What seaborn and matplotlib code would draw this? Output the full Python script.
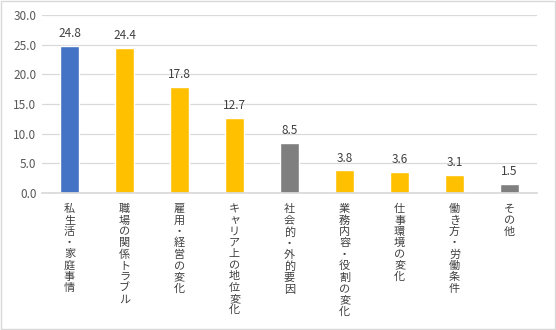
import matplotlib
matplotlib.use("Agg")
import matplotlib.pyplot as plt
import seaborn as sns
import pandas as pd

categories = ["私生活・家庭事情", "職場の関係トラブル", "雇用・経営の変化", "キャリア上の地位変化",
              "社会的・外的要因", "業務内容・役割の変化", "仕事環境の変化", "働き方・労働条件", "その他"]
values = [24.8, 24.4, 17.8, 12.7, 8.5, 3.8, 3.6, 3.1, 1.5]
colors = ["#4472C4", "#FFC000", "#FFC000", "#FFC000", "#7F7F7F", "#FFC000", "#FFC000", "#FFC000", "#7F7F7F"]
yticks = [0, 5, 10, 15, 20, 25, 30]

sns.set_theme(style="white")
plt.rcParams['font.family'] = ['Noto Sans CJK JP', 'DejaVu Sans']

df = pd.DataFrame({"cat": categories, "val": values})

fig = plt.figure(figsize=(5.56, 3.30), dpi=100)
fig.patch.set_facecolor("white")
ax = fig.add_axes([0.0755, 0.415, 0.8905, 0.5395])

sns.barplot(data=df, x="cat", y="val", hue="cat", palette=colors, legend=False,
            width=0.36, ax=ax, saturation=1)

ax.set_ylim(0, 30)
ax.set_yticks(yticks)
ax.set_yticklabels([f"{t:.1f}" for t in yticks], fontsize=8.5, color="#595959")
ax.yaxis.grid(True, color="#D9D9D9", linewidth=0.9)
ax.set_axisbelow(True)
for s in ["top", "right", "left"]:
    ax.spines[s].set_visible(False)
ax.spines["bottom"].set_color("#D9D9D9")
ax.tick_params(axis="both", length=0, pad=4)
ax.set_xlabel("")
ax.set_ylabel("")
ax.set_xlim(-0.5, len(categories) - 0.5)

ax.set_xticks(range(len(categories)))
ax.set_xticklabels(["\n".join(c) for c in categories], fontsize=8, color="#404040",
                   linespacing=1.15, va="top")
ax.tick_params(axis="x", pad=8)

for i, v in enumerate(values):
    ax.text(i, v + 1.0, f"{v:.1f}", ha="center", va="bottom", fontsize=8.5, color="#404040")

border = plt.Rectangle((0.002, 0.003), 0.996, 0.994, transform=fig.transFigure,
                       fill=False, edgecolor="#D9D9D9", linewidth=1)
fig.add_artist(border)

fig.savefig("out.png", dpi=100)
